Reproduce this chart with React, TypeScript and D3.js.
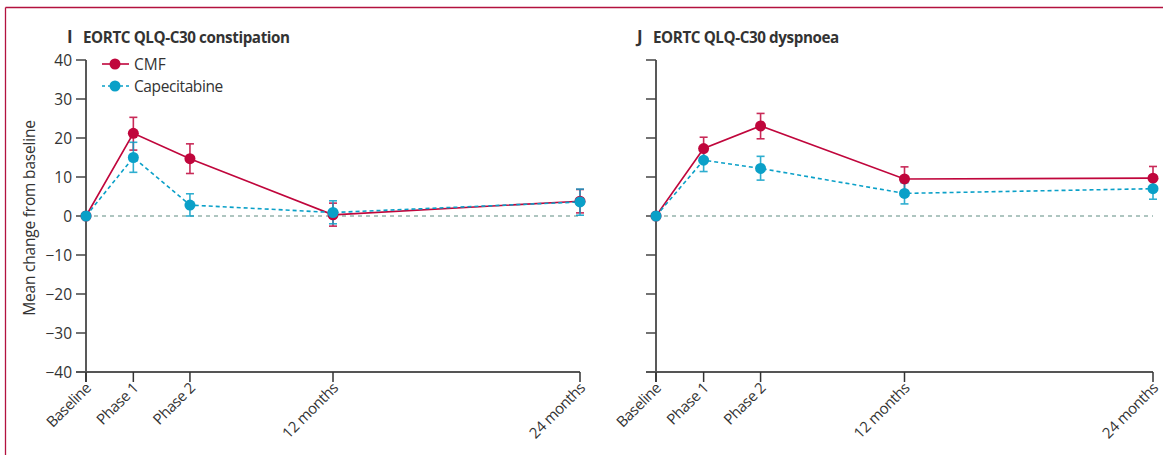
import React from "react";
import * as d3 from "d3";

const timepoints = ["Baseline", "Phase 1", "Phase 2", "12 months", "24 months"];
const monthsAt = [0, 2.3, 5.05, 12, 24];
const yTicks = [40, 30, 20, 10, 0, -10, -20, -30, -40];

// Panel I: constipation
const conCMF = [0, 21.2, 14.7, 0.3, 3.8];
const conCMFLo = [0, 16.9, 10.9, -2.6, 0.8];
const conCMFHi = [0, 25.3, 18.5, 3.3, 6.8];
const conCap = [0, 15.0, 2.8, 0.9, 3.6];
const conCapLo = [0, 11.2, 0, -2.0, 0.2];
const conCapHi = [0, 18.9, 5.7, 3.9, 6.9];

// Panel J: dyspnoea
const dysCMF = [0, 17.3, 23.1, 9.5, 9.7];
const dysCMFLo = [0, 14.4, 19.8, 6.4, 6.7];
const dysCMFHi = [0, 20.2, 26.3, 12.6, 12.7];
const dysCap = [0, 14.3, 12.2, 5.8, 7.0];
const dysCapLo = [0, 11.4, 9.2, 3.1, 4.3];
const dysCapHi = [0, 17.0, 15.3, 8.5, 9.5];

const CMF_COLOR = "#c0063c";
const CAP_COLOR = "#0aa0c8";
const FONT = "'Open Sans', 'Noto Sans', sans-serif";

type Series = { v: number[]; lo: number[]; hi: number[] };

function Panel(props: {
  x0: number;
  x1: number;
  letter: string;
  title: string;
  cmf: Series;
  cap: Series;
  showYLabels: boolean;
  showLegend: boolean;
}) {
  const { x0, x1, letter, title, cmf, cap, showYLabels, showLegend } = props;
  const x = d3.scaleLinear().domain([0, 24]).range([x0, x1]);
  const y = d3.scaleLinear().domain([-40, 40]).range([372, 60]);
  const line = d3
    .line<number>()
    .x((_, i) => x(monthsAt[i]))
    .y((d) => y(d));

  const drawErr = (s: Series, color: string) =>
    s.v.map((_, i) =>
      i === 0 ? null : (
        <g key={"e" + i} stroke={color} strokeWidth={1.6} opacity={0.85}>
          <line x1={x(monthsAt[i])} x2={x(monthsAt[i])} y1={y(s.lo[i])} y2={y(s.hi[i])} />
          <line x1={x(monthsAt[i]) - 4} x2={x(monthsAt[i]) + 4} y1={y(s.lo[i])} y2={y(s.lo[i])} />
          <line x1={x(monthsAt[i]) - 4} x2={x(monthsAt[i]) + 4} y1={y(s.hi[i])} y2={y(s.hi[i])} />
        </g>
      )
    );

  return (
    <g>
      <text x={x0 - 19} y={43} fontFamily={FONT} fontWeight={700} fontSize={17} fill="#333">
        {letter}
      </text>
      <text x={x0 - 3} y={43} fontFamily={FONT} fontWeight={700} fontSize={15.2} fill="#333" letterSpacing={-0.4}>
        {title}
      </text>
      {/* y axis */}
      <line x1={x0} x2={x0} y1={y(40)} y2={y(-40) + 10} stroke="#222" strokeWidth={1.5} />
      {yTicks.map((t) => (
        <g key={t}>
          <line x1={x0 - 10} x2={x0} y1={y(t)} y2={y(t)} stroke="#444" strokeWidth={1.5} />
          {showYLabels && (
            <text x={x0 - 14} y={y(t) + 5.5} textAnchor="end" fontFamily={FONT} fontSize={15.5} fill="#333">
              {t < 0 ? "\u2212" + Math.abs(t) : String(t)}
            </text>
          )}
        </g>
      ))}
      {/* x axis */}
      <line x1={x0 - 10} x2={x1} y1={y(-40)} y2={y(-40)} stroke="#555" strokeWidth={2} />
      {timepoints.map((lab, i) => (
        <g key={lab}>
          <line x1={x(monthsAt[i])} x2={x(monthsAt[i])} y1={y(-40)} y2={y(-40) + 10} stroke="#333" strokeWidth={1.5} />
          <text
            transform={`translate(${x(monthsAt[i]) + 6},${y(-40) + 17}) rotate(-45)`}
            textAnchor="end"
            fontFamily={FONT}
            fontSize={15}
            fill="#333"
            letterSpacing={-0.4}
          >
            {lab}
          </text>
        </g>
      ))}
      {/* zero reference */}
      <line x1={x0} x2={x1} y1={y(0)} y2={y(0)} stroke="#5e8c82" strokeWidth={1.2} strokeDasharray="4,4" />
      {drawErr(cmf, CMF_COLOR)}
      {drawErr(cap, CAP_COLOR)}
      <path d={line(cmf.v) || ""} fill="none" stroke={CMF_COLOR} strokeWidth={1.6} />
      <path d={line(cap.v) || ""} fill="none" stroke={CAP_COLOR} strokeWidth={1.6} strokeDasharray="4,3" />
      {cmf.v.map((d, i) => (
        <circle key={"c" + i} cx={x(monthsAt[i])} cy={y(d)} r={5.5} fill={CMF_COLOR} />
      ))}
      {cap.v.map((d, i) => (
        <circle key={"p" + i} cx={x(monthsAt[i])} cy={y(d)} r={5.5} fill={CAP_COLOR} />
      ))}
      {showLegend && (
        <g>
          <line x1={102} x2={129} y1={64} y2={64} stroke={CMF_COLOR} strokeWidth={1.6} />
          <circle cx={115} cy={64} r={5.5} fill={CMF_COLOR} />
          <text x={134} y={69.5} fontFamily={FONT} fontSize={15.5} fill="#333">CMF</text>
          <line x1={102} x2={129} y1={86} y2={86} stroke={CAP_COLOR} strokeWidth={1.6} strokeDasharray="3,3" />
          <circle cx={115} cy={86} r={5.5} fill={CAP_COLOR} />
          <text x={134} y={91.5} fontFamily={FONT} fontSize={15.5} fill="#333" letterSpacing={-0.4}>Capecitabine</text>
        </g>
      )}
    </g>
  );
}

export default function App() {
  return (
    <svg
      width={1163}
      height={455}
      style={{ position: "absolute", left: 0, top: 0, background: "#fff" }}
    >
      <line x1={5.5} x2={1163} y1={7.5} y2={7.5} stroke="#b3123f" strokeWidth={1.3} />
      <line x1={5.5} x2={5.5} y1={7.5} y2={455} stroke="#b3123f" strokeWidth={1.3} />
      <text
        transform="translate(35,218) rotate(-90)"
        textAnchor="middle"
        fontFamily={FONT}
        fontSize={15.5}
        fill="#333"
        letterSpacing={-0.2}
      >
        Mean change from baseline
      </text>
      <Panel
        x0={86}
        x1={580}
        letter="I"
        title="EORTC QLQ-C30 constipation"
        cmf={{ v: conCMF, lo: conCMFLo, hi: conCMFHi }}
        cap={{ v: conCap, lo: conCapLo, hi: conCapHi }}
        showYLabels={true}
        showLegend={true}
      />
      <Panel
        x0={656}
        x1={1153}
        letter="J"
        title="EORTC QLQ-C30 dyspnoea"
        cmf={{ v: dysCMF, lo: dysCMFLo, hi: dysCMFHi }}
        cap={{ v: dysCap, lo: dysCapLo, hi: dysCapHi }}
        showYLabels={false}
        showLegend={false}
      />
    </svg>
  );
}
